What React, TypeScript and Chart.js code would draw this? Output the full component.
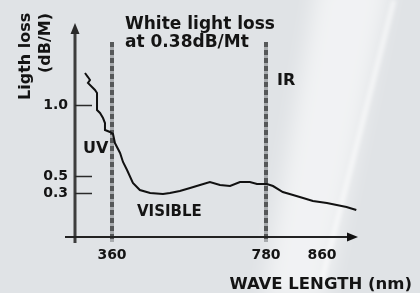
import React, { useEffect, useRef } from 'react';
import { Chart, LinearScale, registerables } from 'chart.js';

// ---- data ----
const wavelengthNm = [287, 295, 300.5, 295, 306, 314, 319.5, 319.5, 327.6, 335.7, 341, 341, 354.6, 362.7, 368, 382, 390, 401, 417, 436, 464, 499, 518, 545, 573, 600, 627, 654.5, 682, 709, 736, 755.5, 781.4, 790, 804, 818.6, 833, 847, 867, 881, 895, 909];
const lossDbPerM = [1.237, 1.207, 1.185, 1.163, 1.133, 1.111, 1.089, 0.965, 0.944, 0.908, 0.873, 0.824, 0.81, 0.796, 0.732, 0.662, 0.599, 0.542, 0.418, 0.335, 0.3, 0.293, 0.3, 0.324, 0.359, 0.394, 0.429, 0.394, 0.382, 0.429, 0.429, 0.406, 0.406, 0.382, 0.312, 0.286, 0.266, 0.245, 0.232, 0.218, 0.205, 0.184];
const xTickValues = [360, 780, 860];
const yTickValues = [0.3, 0.5, 1.0];
const markerWavelengths = [360, 780];
const titleLines = ['White light loss', 'at 0.38dB/Mt'];
const yTitleLines = ['Ligth loss', '(dB/M)'];
const xTitle = 'WAVE LENGTH (nm)';
const regionLabels = ['UV', 'VISIBLE', 'IR'];

// ---- schematic (non-uniform) axis geometry ----
const AXIS_KNOTS: Record<string, { values: number[]; fractions: number[] }> = {
  x: { values: [260, 360, 780, 860, 910], fractions: [0, 37 / 282, 191 / 282, 247 / 282, 1] },
  y: { values: [0, 0.3, 0.5, 1.0, 1.6], fractions: [0, 44 / 213, 61 / 213, 132 / 213, 1] },
};

function interp(v: number, xs: number[], ys: number[]) {
  let i = 0;
  if (v <= xs[0]) i = 0;
  else if (v >= xs[xs.length - 1]) i = xs.length - 2;
  else {
    while (i < xs.length - 2 && v > xs[i + 1]) i++;
  }
  const t = (v - xs[i]) / (xs[i + 1] - xs[i]);
  return ys[i] + t * (ys[i + 1] - ys[i]);
}

class PiecewiseScale extends LinearScale {
  static id = 'piecewise';
  static defaults = (LinearScale as any).defaults;
  getPixelForValue(value: any) {
    if (value === null || value === undefined || Number.isNaN(+value)) return NaN;
    const k = AXIS_KNOTS[(this as any).id];
    return this.getPixelForDecimal(interp(+value, k.values, k.fractions));
  }
  getValueForPixel(pixel: number) {
    const k = AXIS_KNOTS[(this as any).id];
    return interp(this.getDecimalForPixel(pixel), k.fractions, k.values);
  }
}

Chart.register(...registerables, PiecewiseScale as any);

const FONT = "'DejaVu Sans', sans-serif";
const INK = '#141414';

const decorPlugin = {
  id: 'decor',
  beforeDraw(chart: any) {
    const { ctx, width, height } = chart;
    ctx.save();
    ctx.fillStyle = '#e0e3e6';
    ctx.fillRect(0, 0, width, height);
    // soft white diagonal band
    ctx.filter = 'blur(10px)';
    ctx.fillStyle = 'rgba(255,255,255,0.55)';
    ctx.beginPath();
    ctx.moveTo(318, -20);
    ctx.lineTo(392, -20);
    ctx.lineTo(325, 300);
    ctx.lineTo(262, 300);
    ctx.closePath();
    ctx.fill();
    ctx.filter = 'blur(2px)';
    ctx.strokeStyle = 'rgba(255,255,255,0.7)';
    ctx.lineWidth = 4;
    ctx.beginPath();
    ctx.moveTo(394, 0);
    ctx.lineTo(322, 280);
    ctx.stroke();
    ctx.filter = 'none';
    ctx.restore();
  },
  beforeDatasetsDraw(chart: any) {
    const { ctx, chartArea, scales } = chart;
    const xs = scales.x;
    const ys = scales.y;
    ctx.save();
    // dashed markers
    markerWavelengths.forEach((w) => {
      const px = Math.round(xs.getPixelForValue(w));
      ctx.lineWidth = 4;
      ctx.strokeStyle = '#a8abae';
      ctx.setLineDash([]);
      ctx.beginPath();
      ctx.moveTo(px, 42);
      ctx.lineTo(px, chartArea.bottom + 5);
      ctx.stroke();
      ctx.strokeStyle = '#565859';
      ctx.setLineDash([5, 3]);
      ctx.beginPath();
      ctx.moveTo(px, 42);
      ctx.lineTo(px, chartArea.bottom + 5);
      ctx.stroke();
    });
    ctx.setLineDash([]);
    // y axis with arrow
    ctx.strokeStyle = '#3d3d3d';
    ctx.fillStyle = '#2a2a2a';
    ctx.lineWidth = 3;
    ctx.beginPath();
    ctx.moveTo(chartArea.left, chartArea.bottom + 6);
    ctx.lineTo(chartArea.left, chartArea.top + 8);
    ctx.stroke();
    ctx.beginPath();
    ctx.moveTo(chartArea.left, chartArea.top - 1);
    ctx.lineTo(chartArea.left + 4.5, chartArea.top + 10);
    ctx.lineTo(chartArea.left - 4.5, chartArea.top + 10);
    ctx.closePath();
    ctx.fill();
    // x axis with arrow
    ctx.strokeStyle = '#222';
    ctx.lineWidth = 2;
    ctx.beginPath();
    ctx.moveTo(chartArea.left - 10, chartArea.bottom);
    ctx.lineTo(chartArea.right - 8, chartArea.bottom);
    ctx.stroke();
    ctx.fillStyle = '#111';
    ctx.beginPath();
    ctx.moveTo(chartArea.right + 1, chartArea.bottom);
    ctx.lineTo(chartArea.right - 10, chartArea.bottom - 4.5);
    ctx.lineTo(chartArea.right - 10, chartArea.bottom + 4.5);
    ctx.closePath();
    ctx.fill();
    // y tick marks
    ctx.strokeStyle = '#2a2a2a';
    ctx.lineWidth = 1.5;
    yTickValues.forEach((v) => {
      const py = Math.round(ys.getPixelForValue(v)) + 0.5;
      ctx.beginPath();
      ctx.moveTo(chartArea.left, py);
      ctx.lineTo(chartArea.left + 17, py);
      ctx.stroke();
    });
    ctx.restore();
  },
  afterDraw(chart: any) {
    const { ctx } = chart;
    ctx.save();
    ctx.fillStyle = INK;
    ctx.textBaseline = 'alphabetic';
    ctx.textAlign = 'left';
    ctx.font = `bold 17px ${FONT}`;
    ctx.fillText(titleLines[0], 125, 29);
    ctx.fillText(titleLines[1], 125, 47);
    ctx.font = `bold 16px ${FONT}`;
    ctx.fillText(regionLabels[0], 83, 153);
    ctx.fillText(regionLabels[2], 277, 85);
    ctx.font = `bold 15px ${FONT}`;
    ctx.fillText(regionLabels[1], 137, 216);
    ctx.font = `bold 16.5px ${FONT}`;
    ctx.textAlign = 'right';
    ctx.fillText(xTitle, 412, 289);
    // rotated y title
    ctx.font = `bold 16px ${FONT}`;
    ctx.textAlign = 'left';
    ctx.save();
    ctx.translate(30, 100);
    ctx.rotate(-Math.PI / 2);
    ctx.fillText(yTitleLines[0], 0, 0);
    ctx.restore();
    ctx.save();
    ctx.translate(50, 73);
    ctx.rotate(-Math.PI / 2);
    ctx.fillText(yTitleLines[1], 0, 0);
    ctx.restore();
    ctx.restore();
  },
};

export default function App() {
  const ref = useRef<HTMLCanvasElement | null>(null);
  useEffect(() => {
    if (!ref.current) return;
    const chart = new Chart(ref.current, {
      type: 'line',
      data: {
        datasets: [
          {
            data: wavelengthNm.map((w, i) => ({ x: w, y: lossDbPerM[i] })),
            borderColor: '#111',
            borderWidth: 2,
            pointRadius: 0,
            tension: 0,
            fill: false,
          },
        ],
      },
      options: {
        animation: false,
        responsive: false,
        layout: { padding: { top: 24, right: 63, left: 0, bottom: 0 } },
        plugins: { legend: { display: false }, tooltip: { enabled: false } },
        scales: {
          x: {
            type: 'piecewise' as any,
            min: 260,
            max: 910,
            position: 'bottom',
            grid: { display: false, drawTicks: false },
            border: { display: false },
            afterFit: (s: any) => {
              s.height = 56;
            },
            afterBuildTicks: (s: any) => {
              s.ticks = xTickValues.map((v) => ({ value: v }));
            },
            ticks: {
              padding: 10,
              color: INK,
              font: { family: FONT, weight: 'bold', size: 14 },
              autoSkip: false,
              maxRotation: 0,
              callback: (v: any) => String(v),
            },
          },
          y: {
            type: 'piecewise' as any,
            min: 0,
            max: 1.6,
            grid: { display: false, drawTicks: false },
            border: { display: false },
            afterFit: (s: any) => {
              s.width = 75;
            },
            afterBuildTicks: (s: any) => {
              s.ticks = yTickValues.map((v) => ({ value: v }));
            },
            ticks: {
              padding: 7,
              color: INK,
              font: { family: FONT, weight: 'bold', size: 14 },
              autoSkip: false,
              callback: (v: any) => Number(v).toFixed(1),
            },
          },
        },
      },
      plugins: [decorPlugin],
    } as any);
    return () => chart.destroy();
  }, []);
  return (
    <div style={{ position: 'absolute', left: 0, top: 0, width: 420, height: 293 }}>
      <canvas ref={ref} width={420} height={293} style={{ display: 'block' }} />
    </div>
  );
}
